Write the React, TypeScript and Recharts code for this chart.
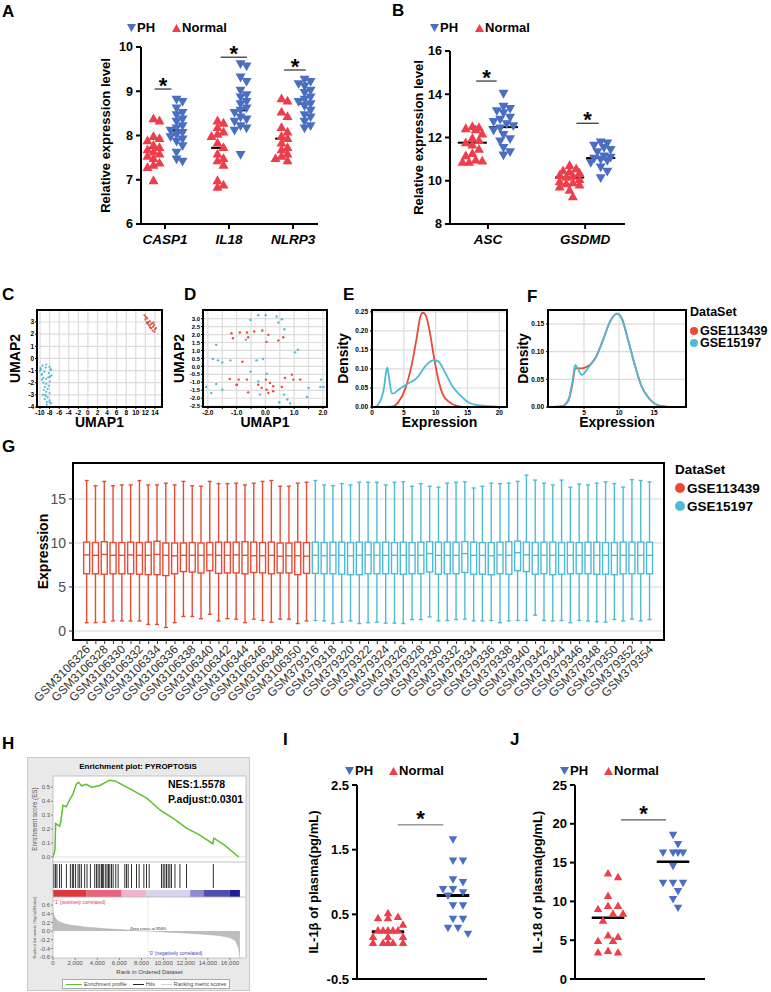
import React from 'react'
import {
  ScatterChart, Scatter, LineChart, Line, ComposedChart, Bar, Area,
  XAxis, YAxis, CartesianGrid, ReferenceLine, ReferenceArea, ReferenceDot,
  Legend, Label,
} from 'recharts'

const FONT = 'Arial, "Liberation Sans", Helvetica, sans-serif'
const BLUE = '#4a6fc2'
const RED = '#ef3e4b'
const GSE_RED = '#E64B35'
const GSE_CYAN = '#4DBBD5'
const GRID = '#dcdcdc'

// ---------- A / B / I / J dot plots ----------
const groups = ['PH', 'Normal']

const genesA = ['CASP1', 'IL18', 'NLRP3']
const normalA = [
  [8.4, 8.35, 8.0, 7.95, 7.9, 7.8, 7.75, 7.7, 7.65, 7.6, 7.55, 7.5, 7.4, 7.35, 7.3, 7.0],
  [8.35, 8.3, 8.2, 8.1, 8.05, 8.0, 7.85, 7.75, 7.6, 7.5, 7.45, 7.35, 7.0, 6.9, 6.85],
  [8.85, 8.8, 8.55, 8.45, 8.2, 8.1, 8.0, 7.95, 7.85, 7.75, 7.7, 7.6, 7.55, 7.5, 7.45],
]
const phA = [
  [8.8, 8.75, 8.6, 8.5, 8.45, 8.35, 8.3, 8.2, 8.15, 8.1, 8.05, 8.0, 7.95, 7.9, 7.85, 7.75, 7.6, 7.45, 7.4],
  [9.6, 9.55, 9.3, 9.2, 9.0, 8.9, 8.85, 8.75, 8.7, 8.6, 8.55, 8.5, 8.4, 8.35, 8.3, 8.2, 8.15, 8.1, 7.55],
  [9.25, 9.2, 9.15, 9.1, 9.0, 8.95, 8.85, 8.8, 8.75, 8.7, 8.65, 8.55, 8.45, 8.4, 8.3, 8.2, 8.15],
]
const meanNormalA = [7.72, 7.72, 7.93]
const meanPhA = [8.12, 8.57, 8.72]
const sigA = [9.05, 9.77, 9.48]

const genesB = ['ASC', 'GSDMD']
const normalB = [
  [12.55, 12.5, 12.45, 12.4, 12.2, 12.0, 11.9, 11.8, 11.7, 11.5, 11.3, 11.2, 11.0, 10.95, 10.9, 10.9],
  [10.75, 10.6, 10.5, 10.45, 10.4, 10.3, 10.25, 10.2, 10.1, 10.0, 9.95, 9.9, 9.85, 9.75, 9.6, 9.3],
]
const phB = [
  [14.0, 13.4, 13.3, 13.2, 13.1, 12.9, 12.8, 12.7, 12.6, 12.5, 12.4, 12.3, 12.1, 11.9, 11.8, 11.5, 11.3, 11.15],
  [11.75, 11.7, 11.6, 11.5, 11.4, 11.3, 11.1, 11.05, 11.0, 10.95, 10.9, 10.8, 10.6, 10.4, 10.1],
]
const meanNormalB = [11.76, 10.15]
const meanPhB = [12.48, 11.05]
const sigB = [14.61, 12.66]

const normalI = [0.53, 0.45, 0.45, 0.47, 0.35, 0.26, 0.26, 0.26, 0.26, 0.26, 0.16, 0.16, 0.16, 0.07, 0.07, 0.07, 0.07, 0.07]
const phI = [1.65, 1.32, 1.32, 1.03, 0.99, 0.88, 0.88, 0.83, 0.78, 0.63, 0.63, 0.42, 0.42, 0.28, 0.28, 0.19]
const meanI = [0.23, 0.79]
const sigI = [1.885]

const normalJ = [13.7, 13.2, 10.8, 9.5, 9.5, 9.1, 8.5, 8.5, 7.6, 5.7, 5.5, 5.0, 5.0, 3.7, 3.5, 3.5]
const phJ = [18.5, 17.3, 16.2, 16.2, 16.2, 16.2, 14.5, 12.3, 12.3, 12.3, 11.25, 10.2, 9.1]
const meanJ = [7.9, 15.1]
const sigJ = [20.5]

// ---------- C / D umap ----------
const datasets = ['GSE113439', 'GSE15197']
const dsColors = [GSE_RED, GSE_CYAN]

const umapCCyan = [[-9.8, -0.9], [-9.5, -0.6], [-8.7, -0.5], [-8.0, -0.7], [-7.7, -0.95], [-9.1, -1.1], [-9.6, -1.3], [-8.2, -1.2], [-7.9, -1.5], [-9.3, -1.6], [-8.7, -1.7], [-9.6, -1.75], [-8.0, -1.9], [-8.7, -2.1], [-9.0, -2.35], [-8.2, -2.25], [-9.2, -2.6], [-8.7, -2.75], [-8.0, -2.85], [-8.9, -3.0], [-8.4, -3.2], [-9.0, -3.35], [-8.0, -3.45], [-8.6, -3.6], [-7.7, -3.7], [-10.0, -1.0], [-9.7, -1.35], [-8.8, -0.75], [-7.8, -0.9], [-9.3, -2.0], [-8.4, -2.5], [-8.8, -3.1], [-8.0, -3.6], [-8.6, -3.8], [-9.4, -3.0], [-7.6, -1.4], [-9.9, -0.8], [-8.3, -1.55]]
const umapCRed = [[11.8, 3.55], [12.1, 3.4], [12.0, 3.2], [12.4, 3.3], [12.6, 3.0], [12.3, 2.95], [12.9, 3.05], [13.1, 2.8], [12.8, 2.7], [13.4, 2.9], [13.6, 2.6], [13.2, 2.5], [13.8, 2.75], [14.0, 2.4], [13.5, 2.3], [13.9, 2.2], [12.5, 2.85], [13.0, 2.55], [14.2, 2.5], [13.7, 2.95]]

const umapDCyan = [[-0.25, 3.21], [0.01, 3.21], [0.39, 3.13], [0.57, 2.96], [-0.52, 2.92], [0.45, 2.75], [0.66, 2.33], [-0.68, 1.67], [-1.71, 1.35], [1.03, 0.88], [1.13, 1.04], [-1.83, 0.46], [-1.65, 0.38], [-1.5, 0.25], [-1.22, 0.38], [-0.31, 0.38], [-0.08, 0.46], [-0.52, -0.33], [0.04, -0.46], [1.93, -0.83], [-1.71, -1.1], [-1.5, -1.46], [-2.06, -1.29], [-1.88, -1.67], [-1.01, -1.17], [1.91, -1.29], [1.5, -1.35], [2.02, -1.29], [-0.25, -0.94], [0.65, -1.77], [1.44, -1.92], [0.76, -2.08], [0.48, -2.25], [0.86, -2.33], [-0.19, -1.77]]
const umapDRed = [[-1.18, 2.08], [-0.89, 2.13], [-0.64, 2.13], [-0.39, 2.19], [-0.11, 2.25], [-1.13, 1.77], [-0.6, 1.83], [0.04, 1.54], [0.45, 1.63], [0.1, 1.98], [0.62, 1.83], [-0.8, 0.29], [-0.99, -1.15], [-1.24, -0.79], [-0.93, -0.83], [-0.64, -0.83], [-0.6, -1.63], [0.02, -0.83], [0.16, -1.04], [0.27, -1.25], [0.68, -0.73], [0.97, -0.83], [1.21, -0.83], [0.92, -0.52], [0.04, -1.46], [0.27, -1.56], [-0.13, -1.35], [0.1, -1.67], [0.57, -1.29], [-0.25, -1.15]]

// ---------- E / F density ----------
const densERed = [[1.5, 0], [3, 0.001], [3.6, 0.004], [4.1, 0.012], [5.2, 0.047], [6.2, 0.108], [7.0, 0.18], [7.6, 0.238], [8.0, 0.248], [8.5, 0.238], [9.1, 0.195], [9.7, 0.134], [10.4, 0.073], [11.1, 0.034], [12.2, 0.012], [13.5, 0.002], [14.5, 0]]
const densECyan = [[0.5, 0], [0.8, 0.003], [1.4, 0.02], [1.85, 0.047], [2.2, 0.09], [2.4, 0.104], [2.65, 0.08], [3.1, 0.036], [3.5, 0.036], [3.9, 0.042], [5.5, 0.06], [7.1, 0.077], [8.4, 0.108], [9.2, 0.12], [9.7, 0.123], [10.4, 0.12], [11.5, 0.09], [12.6, 0.055], [13.9, 0.03], [15.2, 0.012], [17, 0.004], [19.5, 0.001], [21, 0]]
const densFRed = [[0.6, 0], [1.8, 0.001], [2.8, 0.012], [3.4, 0.045], [3.75, 0.07], [4.1, 0.07], [4.7, 0.07], [5.6, 0.074], [6.8, 0.093], [7.8, 0.124], [8.7, 0.154], [9.7, 0.169], [10.4, 0.16], [11.3, 0.121], [12.3, 0.074], [13.2, 0.038], [14.4, 0.014], [15.9, 0.002], [17.5, 0]]
const densFCyan = [[0.6, 0], [1.8, 0.001], [2.8, 0.014], [3.4, 0.05], [3.75, 0.076], [4.1, 0.07], [4.7, 0.058], [5.6, 0.071], [6.8, 0.092], [7.8, 0.124], [8.7, 0.154], [9.7, 0.169], [10.4, 0.16], [11.3, 0.121], [12.3, 0.074], [13.2, 0.038], [14.4, 0.014], [15.9, 0.002], [17.5, 0]]

// ---------- G boxplots ----------
const samplesG = [
  'GSM3106326', 'GSM3106327', 'GSM3106328', 'GSM3106329', 'GSM3106330', 'GSM3106331', 'GSM3106332', 'GSM3106333', 'GSM3106334', 'GSM3106335',
  'GSM3106336', 'GSM3106337', 'GSM3106338', 'GSM3106339', 'GSM3106340', 'GSM3106341', 'GSM3106342', 'GSM3106343', 'GSM3106344', 'GSM3106345',
  'GSM3106346', 'GSM3106347', 'GSM3106348', 'GSM3106349', 'GSM3106350', 'GSM3106351',
  'GSM379316', 'GSM379317', 'GSM379318', 'GSM379319', 'GSM379320', 'GSM379321', 'GSM379322', 'GSM379323', 'GSM379324', 'GSM379325',
  'GSM379326', 'GSM379327', 'GSM379328', 'GSM379329', 'GSM379330', 'GSM379331', 'GSM379332', 'GSM379333', 'GSM379334', 'GSM379335',
  'GSM379336', 'GSM379337', 'GSM379338', 'GSM379339', 'GSM379340', 'GSM379341', 'GSM379342', 'GSM379343', 'GSM379344', 'GSM379345',
  'GSM379346', 'GSM379347', 'GSM379348', 'GSM379349', 'GSM379350', 'GSM379351', 'GSM379352', 'GSM379353', 'GSM379354',
]
const gMax = [
  17.1, 16.5, 17.0, 16.5, 16.6, 16.6, 17.1, 16.6, 16.6, 16.8, 16.6, 17.0, 16.5, 16.45, 17.0, 16.75, 16.75, 16.8, 16.6, 16.8, 17.0, 17.1, 16.45, 16.45, 16.8, 16.9,
  17.1, 16.6, 16.5, 16.75, 16.6, 16.9, 16.9, 16.9, 16.6, 16.9, 16.95, 16.45, 16.75, 16.45, 16.35, 16.8, 16.9, 16.95, 16.25, 16.45, 16.8, 16.75, 16.8, 17.0,
  17.7, 17.15, 16.8, 16.6, 17.15, 16.35, 16.7, 16.6, 16.8, 16.95, 16.75, 16.35, 17.2, 17.1, 16.95,
]
const gQ3 = [
  10.1, 10.05, 10.15, 10.05, 10.05, 10.1, 10.05, 10.1, 10.2, 10.0, 10.0, 10.0, 10.05, 10.0, 10.05, 10.1, 10.1, 10.1, 10.15, 10.1, 10.05, 10.1, 10.0, 10.0, 10.1, 10.05,
  10.1, 10.05, 10.1, 10.1, 10.05, 10.1, 10.1, 10.05, 10.1, 10.05, 10.1, 10.05, 10.1, 10.15, 10.1, 10.1, 10.1, 10.15, 10.1, 10.05, 10.05, 10.1, 10.15, 10.2,
  10.1, 10.05, 10.1, 10.1, 10.05, 10.1, 10.05, 10.1, 10.1, 10.05, 10.05, 10.1, 10.1, 10.1, 10.1,
]
const gMed = [
  8.65, 8.6, 8.7, 8.6, 8.6, 8.65, 8.6, 8.6, 8.7, 8.6, 8.55, 8.6, 8.6, 8.6, 8.65, 8.6, 8.6, 8.65, 8.6, 8.55, 8.55, 8.6, 8.5, 8.55, 8.55, 8.5,
  8.6, 8.55, 8.6, 8.6, 8.55, 8.6, 8.65, 8.6, 8.6, 8.6, 8.6, 8.6, 8.6, 8.8, 8.6, 8.6, 8.6, 8.8, 8.6, 8.6, 8.55, 8.65, 8.6, 8.9,
  8.65, 8.6, 8.6, 8.6, 8.6, 8.6, 8.6, 8.6, 8.6, 8.6, 8.6, 8.6, 8.6, 8.6, 8.6,
]
const gQ1 = [
  6.5, 6.5, 6.45, 6.5, 6.5, 6.5, 6.45, 6.4, 6.4, 6.3, 6.5, 6.75, 6.7, 6.6, 6.85, 6.55, 6.6, 6.6, 6.5, 6.65, 6.6, 6.5, 6.6, 6.6, 6.4, 6.55,
  6.55, 6.5, 6.5, 6.45, 6.4, 6.4, 6.5, 6.5, 6.5, 6.5, 6.45, 6.5, 6.5, 6.7, 6.45, 6.5, 6.5, 6.65, 6.45, 6.45, 6.4, 6.5, 6.45, 6.85,
  6.75, 6.45, 6.5, 6.4, 6.45, 6.5, 6.5, 6.5, 6.45, 6.45, 6.4, 6.5, 6.5, 6.5, 6.5,
]
const gMin = [
  0.95, 0.95, 1.0, 1.15, 1.15, 1.15, 1.15, 0.75, 0.75, 0.4, 0.95, 1.65, 1.65, 1.4, 1.9, 1.15, 1.4, 1.35, 0.95, 1.35, 1.2, 1.0, 1.35, 1.35, 0.85, 1.15,
  1.2, 1.15, 0.85, 1.0, 1.15, 0.85, 0.95, 1.0, 0.9, 0.9, 0.85, 1.3, 1.3, 1.6, 1.15, 1.2, 1.3, 1.35, 1.15, 1.15, 1.2, 0.95, 1.15, 1.2,
  1.2, 1.8, 1.2, 1.15, 1.2, 0.95, 1.2, 1.15, 1.05, 1.0, 1.3, 1.15, 1.35, 1.15, 1.3,
]
const gGroupSize = [26, 39]

// ---------- H GSEA ----------
const esRank = [0, 120, 180, 240, 600, 700, 900, 1200, 1500, 1800, 2100, 2300, 2600, 3000, 3500, 4200, 5100, 5600, 6200, 7250, 8500, 9700, 10900, 12100, 13200, 14450, 14550, 15500, 16800]
const esScore = [0, 0.03, 0.06, 0.24, 0.22, 0.25, 0.37, 0.36, 0.41, 0.45, 0.52, 0.535, 0.51, 0.52, 0.5, 0.51, 0.55, 0.545, 0.52, 0.475, 0.42, 0.335, 0.275, 0.205, 0.16, 0.095, 0.135, 0.085, 0]
const hitRanks = [90, 240, 360, 600, 760, 1210, 1570, 1750, 1870, 2050, 2270, 2420, 2570, 2870, 3080, 3380, 3780, 3930, 4080, 4230, 4380, 4470, 4590, 4770, 4890, 5020, 5140, 5290, 5440, 5680, 5890, 6500, 6650, 6800, 7100, 7550, 7790, 8220, 8460, 8700, 9820, 9970, 10120, 10270, 10420, 10570, 10720, 11030, 11480, 12080, 14500]
const metricRank = [0, 200, 500, 1000, 1500, 2000, 3000, 4000, 5000, 6000, 7000, 8000, 8580, 9000, 10000, 11000, 12000, 13000, 14000, 15000, 16000, 16500, 16800, 16900]
const metricValue = [0.42, 0.3, 0.22, 0.17, 0.14, 0.12, 0.09, 0.07, 0.05, 0.035, 0.02, 0.008, 0, -0.005, -0.02, -0.03, -0.045, -0.06, -0.08, -0.1, -0.15, -0.22, -0.4, -0.62]
const barEdges = [0, 3000, 6200, 8460, 12400, 13600, 16000, 16900]
const barColors = ['#e2363d', '#e8637a', '#f2b3cf', '#d6d4ee', '#8c8cd2', '#4f4fb3', '#1f1f9e']
const gseaKeys = ['Enrichment profile', 'Hits', 'Ranking metric scores']
const gseaKeyColors = ['#5cc12a', '#222', '#cfcfcf']
const nes = 'NES:1.5578'
const padj = 'P.adjust:0.0301'
const zeroCross = 8580

// ---------- helpers ----------
const axisStroke = { stroke: '#000', strokeWidth: 2 }
const thin = { stroke: '#000', strokeWidth: 1 }
const smallTick = { fontSize: 6.5, fontWeight: 700, fill: '#000', fontFamily: FONT }
const toRows = (pairs: number[][]) => pairs.map(([x, y]) => ({ x, y }))

function swarm(values: number[], center: number, yPx: number, xPx: number, d: number, step: number, maxK: number) {
  const placed: number[][] = []
  return [...values].sort((a, b) => b - a).map((v) => {
    const py = v * yPx
    let best = 0
    let bestGap = -1
    for (let k = 0; k <= 2 * maxK; k += 1) {
      const cand = (k % 2 === 1 ? 1 : -1) * Math.ceil(k / 2) * step
      const gap = placed.reduce((m, [px, qy]) => Math.min(m, Math.hypot(px - cand, qy - py)), Infinity)
      if (gap >= d) { best = cand; break }
      if (gap > bestGap) { best = cand; bestGap = gap }
    }
    placed.push([best, py])
    return { x: center + best / xPx, y: v }
  })
}

const tri = (color: string, size: number, down: boolean) => (props: any) => {
  const { cx, cy } = props
  if (cx == null || cy == null) return <g />
  const h = size * 0.88
  const w = size / 2
  const d = down
    ? `M${cx - w},${cy - h / 2}L${cx + w},${cy - h / 2}L${cx},${cy + h / 2}Z`
    : `M${cx},${cy - h / 2}L${cx + w},${cy + h / 2}L${cx - w},${cy + h / 2}Z`
  return <path d={d} fill={color} />
}

const dot = (color: string, r: number) => (props: any) => {
  const { cx, cy } = props
  if (cx == null || cy == null) return <g />
  return <circle cx={cx} cy={cy} r={r} fill={color} />
}

const GroupLegend = ({ gap }: { gap: number }) => (
  <div style={{ display: 'flex', alignItems: 'center', fontFamily: FONT, fontWeight: 700, fontSize: 13, color: '#000', whiteSpace: 'nowrap', lineHeight: '14px' }}>
    {groups.map((g, i) => (
      <span key={g} style={{ display: 'inline-flex', alignItems: 'center', marginRight: i === 0 ? gap : 0 }}>
        <svg width={9} height={8} style={{ marginRight: 1 }}>
          <path d={i === 0 ? 'M0,0L9,0L4.5,8Z' : 'M4.5,0L9,8L0,8Z'} fill={i === 0 ? BLUE : RED} />
        </svg>
        {g}
      </span>
    ))}
  </div>
)

const DataSetLegend = ({ size, r, titleGap, rowGap }: { size: number; r: number; titleGap: number; rowGap: number }) => (
  <div style={{ fontFamily: FONT, fontWeight: 700, fontSize: size, color: '#000', lineHeight: `${size}px`, whiteSpace: 'nowrap' }}>
    <div style={{ marginBottom: titleGap }}>DataSet</div>
    {datasets.map((d, i) => (
      <div key={d} style={{ display: 'flex', alignItems: 'center', marginTop: i ? rowGap : 0 }}>
        <span style={{ width: r * 2, height: r * 2, borderRadius: '50%', background: dsColors[i], marginRight: 2, flex: 'none' }} />
        {d}
      </div>
    ))}
  </div>
)

type DotCfg = {
  width: number; height: number
  margin: { top: number; right: number; bottom: number; left: number }
  yWidth: number; xHeight: number
  xDomain: number[]; yDomain: number[]; yTicks: number[]
  cats: string[] | null; centers: number[]
  normal: number[][]; ph: number[][]
  meanN: number[]; meanP: number[]; sigY: number[]; sigSpan: number[][]
  sep: number; meanHalf: number; meanWidth: number; marker: number
  swarmD: number; swarmStep: number; swarmK: number
  yLabel: string; yLabelOffset: number; yLabelSize: number
  legendLeft: number; legendTop: number; legendGap: number
  sigColor: string; sigWidth: number; starSize: number; starOffset: number
  tickFont: number
}

function DotPlot({ c }: { c: DotCfg }) {
  const plotW = c.width - c.margin.left - c.margin.right - c.yWidth
  const plotH = c.height - c.margin.top - c.margin.bottom - c.xHeight
  const xPx = plotW / (c.xDomain[1] - c.xDomain[0])
  const yPx = plotH / (c.yDomain[1] - c.yDomain[0])
  const spread = (vals: number[], at: number) => swarm(vals, at, yPx, xPx, c.swarmD, c.swarmStep, c.swarmK)
  return (
    <ScatterChart width={c.width} height={c.height} margin={c.margin}>
      <XAxis
        type="number" dataKey="x" domain={c.xDomain} allowDataOverflow height={c.xHeight}
        ticks={c.cats ? c.centers : undefined} interval={0}
        tickFormatter={(v: number) => (c.cats ? c.cats[c.centers.indexOf(v)] : '')}
        tick={c.cats ? { fontSize: 13.5, fontWeight: 700, fontStyle: 'italic', fill: '#000', fontFamily: FONT } : false}
        tickLine={c.cats ? axisStroke : false} tickSize={5} tickMargin={5} axisLine={axisStroke}
      />
      <YAxis
        type="number" dataKey="y" domain={c.yDomain} allowDataOverflow ticks={c.yTicks} interval={0} width={c.yWidth}
        tick={{ fontSize: c.tickFont, fontWeight: 700, fill: '#000', fontFamily: FONT }}
        tickLine={axisStroke} tickSize={5} tickMargin={3} axisLine={axisStroke}
      >
        <Label value={c.yLabel} angle={-90} position="insideLeft" offset={c.yLabelOffset} fontSize={c.yLabelSize} fontWeight={700} fill="#000" style={{ textAnchor: 'middle', fontFamily: FONT }} />
      </YAxis>
      <Legend
        layout="vertical" align="center" verticalAlign="middle"
        wrapperStyle={{ left: c.legendLeft, top: c.legendTop, width: 'auto', height: 'auto' }}
        content={() => <GroupLegend gap={c.legendGap} />}
      />
      {c.normal.map((vals, i) => (
        <Scatter key={`n${i}`} data={spread(vals, c.centers[i] - c.sep)} shape={tri(RED, c.marker, false)} isAnimationActive={false} />
      ))}
      {c.ph.map((vals, i) => (
        <Scatter key={`p${i}`} data={spread(vals, c.centers[i] + c.sep)} shape={tri(BLUE, c.marker, true)} isAnimationActive={false} />
      ))}
      {c.centers.map((m, i) => (
        <ReferenceLine key={`mn${i}`} segment={[{ x: m - c.sep - c.meanHalf, y: c.meanN[i] }, { x: m - c.sep + c.meanHalf, y: c.meanN[i] }]} stroke="#000" strokeWidth={c.meanWidth} />
      ))}
      {c.centers.map((m, i) => (
        <ReferenceLine key={`mp${i}`} segment={[{ x: m + c.sep - c.meanHalf, y: c.meanP[i] }, { x: m + c.sep + c.meanHalf, y: c.meanP[i] }]} stroke="#000" strokeWidth={c.meanWidth} />
      ))}
      {c.centers.map((m, i) => (
        <ReferenceLine key={`s${i}`} segment={[{ x: m + c.sigSpan[i][0], y: c.sigY[i] }, { x: m + c.sigSpan[i][1], y: c.sigY[i] }]} stroke={c.sigColor} strokeWidth={c.sigWidth} />
      ))}
      {c.centers.map((m, i) => (
        <ReferenceDot
          key={`st${i}`} x={m + (c.sigSpan[i][0] + c.sigSpan[i][1]) / 2} y={c.sigY[i]} r={0} fill="none" stroke="none" ifOverflow="visible"
          label={{ value: '*', position: 'top', offset: c.starOffset, fontSize: c.starSize, fontWeight: 700, fill: '#000', fontFamily: FONT }}
        />
      ))}
    </ScatterChart>
  )
}

const cfgA: DotCfg = {
  width: 280, height: 240, margin: { top: 32, right: 22, bottom: 6, left: 41 }, yWidth: 40, xHeight: 25,
  xDomain: [-0.375, 2.39], yDomain: [6, 10], yTicks: [6, 7, 8, 9, 10], cats: genesA, centers: [0, 1, 2],
  normal: normalA, ph: phA, meanN: meanNormalA, meanP: meanPhA, sigY: sigA,
  sigSpan: [[-0.16, 0.1], [-0.13, 0.28], [-0.14, 0.2]],
  sep: 0.18, meanHalf: 0.1, meanWidth: 2, marker: 10, swarmD: 6, swarmStep: 3, swarmK: 3,
  yLabel: 'Relative expression level', yLabelOffset: 4, yLabelSize: 13,
  legendLeft: 67, legendTop: 6, legendGap: 17,
  sigColor: '#000', sigWidth: 1, starSize: 22, starOffset: -4, tickFont: 12.5,
}
const cfgB: DotCfg = {
  width: 260, height: 240, margin: { top: 36, right: 15, bottom: 6, left: 30 }, yWidth: 40, xHeight: 25,
  xDomain: [-0.39, 1.41], yDomain: [8, 16], yTicks: [8, 10, 12, 14, 16], cats: genesB, centers: [0, 1],
  normal: normalB, ph: phB, meanN: meanNormalB, meanP: meanPhB, sigY: sigB,
  sigSpan: [[-0.12, 0.09], [-0.09, 0.14]],
  sep: 0.16, meanHalf: 0.15, meanWidth: 2, marker: 10, swarmD: 6.5, swarmStep: 3.3, swarmK: 3,
  yLabel: 'Relative expression level', yLabelOffset: 8, yLabelSize: 13,
  legendLeft: 50, legendTop: 6, legendGap: 17,
  sigColor: '#000', sigWidth: 1, starSize: 22, starOffset: -4, tickFont: 12.5,
}
const cfgI: DotCfg = {
  width: 210, height: 230, margin: { top: 25, right: 13, bottom: 6, left: 17 }, yWidth: 50, xHeight: 5,
  xDomain: [-0.477, 1.523], yDomain: [-0.5, 2.5], yTicks: [-0.5, 0.5, 1.5, 2.5], cats: null, centers: [0.5],
  normal: [normalI], ph: [phI], meanN: [meanI[0]], meanP: [meanI[1]], sigY: sigI,
  sigSpan: [[-0.35, 0.35]],
  sep: 0.5, meanHalf: 0.25, meanWidth: 3, marker: 8.5, swarmD: 9.5, swarmStep: 5, swarmK: 3,
  yLabel: 'IL-1β of plasma(pg/mL)', yLabelOffset: 6, yLabelSize: 13,
  legendLeft: 55, legendTop: 4, legendGap: 16,
  sigColor: '#9a9a9a', sigWidth: 1.5, starSize: 22, starOffset: -1, tickFont: 13,
}
const cfgJ: DotCfg = {
  width: 210, height: 230, margin: { top: 25, right: 15, bottom: 6, left: 17 }, yWidth: 48, xHeight: 5,
  xDomain: [-0.508, 1.492], yDomain: [0, 25], yTicks: [0, 5, 10, 15, 20, 25], cats: null, centers: [0.5],
  normal: [normalJ], ph: [phJ], meanN: [meanJ[0]], meanP: [meanJ[1]], sigY: sigJ,
  sigSpan: [[-0.3, 0.39]],
  sep: 0.5, meanHalf: 0.25, meanWidth: 2.5, marker: 8.5, swarmD: 9.5, swarmStep: 5, swarmK: 3,
  yLabel: 'IL-18 of plasma(pg/mL)', yLabelOffset: 10, yLabelSize: 13,
  legendLeft: 50, legendTop: 4, legendGap: 16,
  sigColor: '#555', sigWidth: 1.2, starSize: 22, starOffset: -1, tickFont: 13,
}

const bigLabel = { fontSize: 14, fontWeight: 700, fill: '#000', fontFamily: FONT }

function PanelC() {
  const xd = [-10.63, 15.47]
  const yd = [-4, 3.99]
  return (
    <ScatterChart width={170} height={130} margin={{ top: 10, right: 8, bottom: 0, left: 3 }}>
      <CartesianGrid stroke={GRID} strokeWidth={1.2} />
      <XAxis type="number" dataKey="x" domain={xd} allowDataOverflow ticks={[-10, -8, -6, -4, -2, 0, 2, 4, 6, 8, 10, 12, 14]} interval={0} height={23} tick={smallTick} tickSize={2} tickMargin={1} tickLine={thin} axisLine={axisStroke}>
        <Label value="UMAP1" position="insideBottom" offset={3} {...bigLabel} />
      </XAxis>
      <YAxis type="number" dataKey="y" domain={yd} allowDataOverflow ticks={[-4, -3, -2, -1, 0, 1, 2, 3]} interval={0} width={34} tick={smallTick} tickSize={2} tickMargin={1} tickLine={thin} axisLine={axisStroke}>
        <Label value="UMAP2" angle={-90} position="insideLeft" offset={12} {...bigLabel} style={{ textAnchor: 'middle' }} />
      </YAxis>
      <Scatter data={toRows(umapCCyan)} shape={dot(GSE_CYAN, 1.1)} isAnimationActive={false} />
      <Scatter data={toRows(umapCRed)} shape={dot(GSE_RED, 1.1)} isAnimationActive={false} />
      <ReferenceArea x1={xd[0]} x2={xd[1]} y1={yd[0]} y2={yd[1]} fill="none" stroke="#000" strokeWidth={2} ifOverflow="visible" />
    </ScatterChart>
  )
}

function PanelD() {
  const xd = [-2.17, 2.14]
  const yd = [-2.55, 3.54]
  return (
    <ScatterChart width={165} height={130} margin={{ top: 10, right: 8, bottom: 0, left: 6 }}>
      <CartesianGrid stroke={GRID} strokeWidth={1.2} />
      <XAxis type="number" dataKey="x" domain={xd} allowDataOverflow ticks={[-2, -1.5, -1, -0.5, 0, 0.5, 1, 1.5, 2]} interval={0} tickFormatter={(v: number) => (Number.isInteger(v) ? v.toFixed(1) : '')} height={23} tick={smallTick} tickSize={2} tickMargin={1} tickLine={thin} axisLine={axisStroke}>
        <Label value="UMAP1" position="insideBottom" offset={3} {...bigLabel} />
      </XAxis>
      <YAxis type="number" dataKey="y" domain={yd} allowDataOverflow ticks={[-2.5, -2, -1.5, -1, -0.5, 0, 0.5, 1, 1.5, 2, 2.5, 3]} interval={0} tickFormatter={(v: number) => v.toFixed(1)} width={27} tick={{ ...smallTick, fontSize: 6 }} tickSize={2} tickMargin={1} tickLine={thin} axisLine={axisStroke}>
        <Label value="UMAP2" angle={-90} position="insideLeft" offset={3} {...bigLabel} style={{ textAnchor: 'middle' }} />
      </YAxis>
      <Scatter data={toRows(umapDCyan)} shape={dot(GSE_CYAN, 1.2)} isAnimationActive={false} />
      <Scatter data={toRows(umapDRed)} shape={dot(GSE_RED, 1.2)} isAnimationActive={false} />
      <ReferenceArea x1={xd[0]} x2={xd[1]} y1={yd[0]} y2={yd[1]} fill="none" stroke="#000" strokeWidth={2} ifOverflow="visible" />
    </ScatterChart>
  )
}

function PanelE() {
  const xd = [0, 21.2]
  const yd = [0, 0.255]
  return (
    <LineChart width={178} height={130} margin={{ top: 10, right: 6, bottom: 0, left: 0 }}>
      <CartesianGrid stroke={GRID} strokeWidth={1.2} />
      <XAxis type="number" dataKey="x" domain={xd} allowDataOverflow ticks={[0, 5, 10, 15, 20]} interval={0} height={23} tick={smallTick} tickSize={2} tickMargin={1} tickLine={thin} axisLine={axisStroke}>
        <Label value="Expression" position="insideBottom" offset={3} {...bigLabel} />
      </XAxis>
      <YAxis type="number" domain={yd} allowDataOverflow ticks={[0, 0.05, 0.1, 0.15, 0.2, 0.25]} interval={0} tickFormatter={(v: number) => v.toFixed(2)} width={37} tick={smallTick} tickSize={2} tickMargin={2} tickLine={thin} axisLine={axisStroke}>
        <Label value="Density" angle={-90} position="insideLeft" offset={8} {...bigLabel} style={{ textAnchor: 'middle' }} />
      </YAxis>
      <Line data={toRows(densERed)} dataKey="y" type="monotone" stroke={GSE_RED} strokeWidth={1.8} dot={false} isAnimationActive={false} />
      <Line data={toRows(densECyan)} dataKey="y" type="monotone" stroke={GSE_CYAN} strokeWidth={1.8} dot={false} isAnimationActive={false} />
      <ReferenceArea x1={xd[0]} x2={xd[1]} y1={yd[0]} y2={yd[1]} fill="none" stroke="#000" strokeWidth={2} ifOverflow="visible" />
    </LineChart>
  )
}

function PanelF() {
  const xd = [-0.14, 19.57]
  const yd = [0, 0.1754]
  return (
    <LineChart width={258} height={130} margin={{ top: 10, right: 85, bottom: 0, left: 0 }}>
      <CartesianGrid stroke={GRID} strokeWidth={1.2} />
      <XAxis type="number" dataKey="x" domain={xd} allowDataOverflow ticks={[5, 10, 15]} interval={0} height={23} tick={smallTick} tickSize={2} tickMargin={1} tickLine={thin} axisLine={axisStroke}>
        <Label value="Expression" position="insideBottom" offset={3} {...bigLabel} />
      </XAxis>
      <YAxis type="number" domain={yd} allowDataOverflow ticks={[0, 0.05, 0.1, 0.15]} interval={0} tickFormatter={(v: number) => v.toFixed(2)} width={35} tick={smallTick} tickSize={2} tickMargin={2} tickLine={thin} axisLine={axisStroke}>
        <Label value="Density" angle={-90} position="insideLeft" offset={10} {...bigLabel} style={{ textAnchor: 'middle' }} />
      </YAxis>
      <Legend
        layout="vertical" align="center" verticalAlign="middle"
        wrapperStyle={{ left: 177, top: 6, width: 'auto', height: 'auto' }}
        content={() => <DataSetLegend size={12.5} r={4} titleGap={6} rowGap={0} />}
      />
      <Line data={toRows(densFRed)} dataKey="y" type="monotone" stroke={GSE_RED} strokeWidth={1.8} dot={false} isAnimationActive={false} />
      <Line data={toRows(densFCyan)} dataKey="y" type="monotone" stroke={GSE_CYAN} strokeWidth={1.8} dot={false} isAnimationActive={false} />
      <ReferenceArea x1={xd[0]} x2={xd[1]} y1={yd[0]} y2={yd[1]} fill="none" stroke="#000" strokeWidth={2} ifOverflow="visible" />
    </LineChart>
  )
}

const gRows = samplesG.map((name, idx) => ({
  idx, name, range: [gMin[idx], gMax[idx]], q1: gQ1[idx], med: gMed[idx], q3: gQ3[idx],
  group: idx < gGroupSize[0] ? 0 : 1,
}))

const BoxShape = (props: any) => {
  const { x, y, width, height, payload } = props
  if (x == null || !payload) return <g />
  const color = dsColors[payload.group]
  const top = Math.min(y, y + height)
  const h = Math.abs(height)
  const [lo, hi] = payload.range
  const k = h / (hi - lo)
  const py = (v: number) => top + (hi - v) * k
  const cx = x + width / 2
  const cap = 2
  return (
    <g stroke={color} strokeWidth={1.4} fill="none">
      <line x1={cx} x2={cx} y1={top} y2={py(payload.q3)} />
      <line x1={cx} x2={cx} y1={py(payload.q1)} y2={top + h} />
      <line x1={cx - cap} x2={cx + cap} y1={top} y2={top} />
      <line x1={cx - cap} x2={cx + cap} y1={top + h} y2={top + h} />
      <rect x={x} y={py(payload.q3)} width={width} height={py(payload.q1) - py(payload.q3)} fill="#fff" />
      <line x1={x} x2={x + width} y1={py(payload.med)} y2={py(payload.med)} />
    </g>
  )
}

const GTick = (props: any) => {
  const { x, y, payload } = props
  const i = payload.value
  if (i % 2 !== 0) return <g />
  const tx = x + 4
  const ty = y + 4
  return (
    <text x={tx} y={ty} transform={`rotate(-45 ${tx} ${ty})`} textAnchor="end" fontSize={12} fill="#333" fontFamily={FONT}>
      {samplesG[i]}
    </text>
  )
}

function PanelG() {
  const xd = [-1.6, 65.6]
  const yd = [-1.02, 19.09]
  return (
    <ComposedChart width={771} height={260} data={gRows} margin={{ top: 8, right: 107, bottom: 5, left: 28 }}>
      <CartesianGrid vertical={false} stroke="#e3e3e3" strokeWidth={1.3} />
      <XAxis type="number" dataKey="idx" domain={xd} allowDataOverflow ticks={gRows.map((r) => r.idx)} interval={0} height={70} tick={(p: any) => <GTick {...p} />} tickSize={4} tickLine={{ stroke: '#333', strokeWidth: 1 }} axisLine={axisStroke} />
      <YAxis type="number" domain={yd} allowDataOverflow ticks={[0, 5, 10, 15]} interval={0} width={45} tick={{ fontSize: 14, fill: '#4d4d4d', fontFamily: FONT }} tickSize={4} tickMargin={3} tickLine={{ stroke: '#333', strokeWidth: 1 }} axisLine={axisStroke}>
        <Label value="Expression" angle={-90} position="insideLeft" offset={15} {...bigLabel} style={{ textAnchor: 'middle' }} />
      </YAxis>
      <Legend
        layout="vertical" align="center" verticalAlign="middle"
        wrapperStyle={{ left: 675, top: 8, width: 'auto', height: 'auto' }}
        content={() => <DataSetLegend size={13.5} r={5} titleGap={5} rowGap={4.5} />}
      />
      <Bar dataKey="range" barSize={6} shape={BoxShape} isAnimationActive={false} />
      <ReferenceArea x1={xd[0]} x2={xd[1]} y1={yd[0]} y2={yd[1]} fill="none" stroke="#000" strokeWidth={2} ifOverflow="visible" />
    </ComposedChart>
  )
}

const esRows = esRank.map((rank, i) => ({ rank, es: esScore[i] }))
const hitRows = hitRanks.map((rank) => ({ rank, h: [0.26, 0.94] }))
const metricRows = metricRank.map((rank, i) => ({ rank, m: metricValue[i] }))
const RANK_MAX = 17450
const hTick = { fontSize: 6, fill: '#555', fontFamily: FONT }

const GseaLegend = () => (
  <div style={{ display: 'flex', alignItems: 'center', background: '#fff', border: '1px solid #aaa', padding: '1px 3px', fontFamily: FONT, fontSize: 5.3, color: '#444', whiteSpace: 'nowrap', lineHeight: '6px' }}>
    {gseaKeys.map((k, i) => (
      <span key={k} style={{ display: 'inline-flex', alignItems: 'center', marginRight: i < 2 ? 6 : 0 }}>
        <span style={{ display: 'inline-block', width: i === 0 ? 16 : 11, height: 0, borderTop: `1.2px solid ${gseaKeyColors[i]}`, marginRight: 2 }} />
        {k}
      </span>
    ))}
  </div>
)

function PanelH() {
  return (
    <>
      <div style={{ position: 'absolute', left: 27, top: 757, width: 221, height: 232, background: '#e9e9e9', border: '1px solid #c9c9c9' }} />
      <div style={{ position: 'absolute', left: 27, top: 763, width: 222, textAlign: 'center', fontSize: 8, fontWeight: 700, lineHeight: '8px' }}>Enrichment plot: PYROPTOSIS</div>
      <div style={{ position: 'absolute', left: 27, top: 770 }}>
        <LineChart width={222} height={95} margin={{ top: 6, right: 3, bottom: 3, left: 4 }}>
          <CartesianGrid horizontal={false} vertical={false} fill="#fff" />
          <XAxis type="number" dataKey="rank" domain={[0, RANK_MAX]} allowDataOverflow hide />
          <YAxis type="number" domain={[-0.036, 0.58]} allowDataOverflow ticks={[0, 0.1, 0.2, 0.3, 0.4, 0.5]} interval={0} tickFormatter={(v: number) => v.toFixed(1)} width={22} tick={hTick} tickSize={2} tickMargin={1} tickLine={{ stroke: '#888' }} axisLine={false}>
            <Label value="Enrichment score (ES)" angle={-90} position="insideLeft" offset={4} fontSize={6.3} fill="#555" style={{ textAnchor: 'middle', fontFamily: FONT }} />
          </YAxis>
          <ReferenceLine y={0} stroke="#d0d0d0" strokeWidth={0.6} />
          <Line data={esRows} dataKey="es" type="linear" stroke="#5cc12a" strokeWidth={1.5} dot={false} isAnimationActive={false} />
          <ReferenceArea x1={0} x2={RANK_MAX} y1={-0.036} y2={0.58} fill="none" stroke="#b5b5b5" strokeWidth={0.8} ifOverflow="visible" />
        </LineChart>
      </div>
      <div style={{ position: 'absolute', left: 168, top: 779, fontSize: 10.5, fontWeight: 700, lineHeight: '10.5px' }}>{nes}</div>
      <div style={{ position: 'absolute', left: 168, top: 794, fontSize: 10.5, fontWeight: 700, lineHeight: '10.5px' }}>{padj}</div>
      <div style={{ position: 'absolute', left: 27, top: 862 }}>
        <ComposedChart width={222} height={35} data={hitRows} margin={{ top: 0, right: 3, bottom: 0, left: 26 }}>
          <CartesianGrid horizontal={false} vertical={false} fill="#fff" />
          <XAxis type="number" dataKey="rank" domain={[0, RANK_MAX]} allowDataOverflow hide />
          <YAxis type="number" domain={[0, 1]} allowDataOverflow hide />
          {barColors.map((col, i) => (
            <ReferenceArea key={col} x1={barEdges[i]} x2={barEdges[i + 1]} y1={0} y2={0.2} fill={col} fillOpacity={1} stroke="none" />
          ))}
          <Bar dataKey="h" barSize={0.9} fill="#1a1a1a" isAnimationActive={false} />
          <ReferenceArea x1={0} x2={RANK_MAX} y1={0} y2={1} fill="none" stroke="#b5b5b5" strokeWidth={0.8} ifOverflow="visible" />
        </ComposedChart>
      </div>
      <div style={{ position: 'absolute', left: 27, top: 897 }}>
        <ComposedChart width={222} height={95} data={metricRows} margin={{ top: 0, right: 3, bottom: 10, left: 4 }}>
          <CartesianGrid horizontal={false} vertical={false} fill="#fff" />
          <XAxis type="number" dataKey="rank" domain={[0, RANK_MAX]} allowDataOverflow ticks={[0, 2000, 4000, 6000, 8000, 10000, 12000, 14000, 16000]} interval={0} tickFormatter={(v: number) => v.toLocaleString('en-US')} height={24} tick={hTick} tickSize={2} tickMargin={1} tickLine={{ stroke: '#888' }} axisLine={false}>
            <Label value="Rank in Ordered Dataset" position="insideBottom" offset={8} fontSize={6} fill="#444" style={{ fontFamily: FONT }} />
          </XAxis>
          <YAxis type="number" domain={[-0.62, 0.785]} allowDataOverflow ticks={[-0.6, -0.4, -0.2, 0, 0.2, 0.4, 0.6]} interval={0} tickFormatter={(v: number) => v.toFixed(1)} width={22} tick={hTick} tickSize={2} tickMargin={1} tickLine={{ stroke: '#888' }} axisLine={false}>
            <Label value="Ranked list metric (Signal2Noise)" angle={-90} position="insideLeft" offset={4} fontSize={4.2} fill="#555" style={{ textAnchor: 'middle', fontFamily: FONT }} />
          </YAxis>
          <Area dataKey="m" type="linear" fill="#bdbdbd" fillOpacity={1} stroke="#a8a8a8" strokeWidth={0.5} isAnimationActive={false} />
          <ReferenceLine x={zeroCross} stroke="#bdbdbd" strokeDasharray="1 1" strokeWidth={0.6} />
          <ReferenceDot x={0} y={0.67} r={0} fill="none" stroke="none" label={{ value: "'1' (positively correlated)", position: 'right', offset: 1, fontSize: 4.8, fill: '#e03c3c', fontFamily: FONT }} />
          <ReferenceDot x={zeroCross} y={0} r={0} fill="none" stroke="none" label={{ value: `Zero cross at ${zeroCross}`, position: 'top', offset: 1, fontSize: 4.3, fill: '#333', fontFamily: FONT }} />
          <ReferenceDot x={11100} y={-0.51} r={0} fill="none" stroke="none" label={{ value: "'0' (negatively correlated)", position: 'center', fontSize: 4.8, fill: '#3c3cc8', fontFamily: FONT }} />
          <ReferenceArea x1={0} x2={RANK_MAX} y1={-0.62} y2={0.785} fill="none" stroke="#b5b5b5" strokeWidth={0.8} ifOverflow="visible" />
          <Legend
            layout="vertical" align="center" verticalAlign="middle"
            wrapperStyle={{ left: 35, top: 82, width: 'auto', height: 'auto' }}
            content={() => <GseaLegend />}
          />
        </ComposedChart>
      </div>
    </>
  )
}

const letters: [string, number, number][] = [
  ['A', 2, 3], ['B', 392, 2], ['C', 2, 286], ['D', 184, 286], ['E', 343, 286], ['F', 527, 288],
  ['G', 2, 438], ['H', 2, 735], ['I', 283, 731], ['J', 510, 731],
]

function Pos({ left, top, children }: { left: number; top: number; children: React.ReactNode }) {
  return <div style={{ position: 'absolute', left, top }}>{children}</div>
}

export default function App() {
  return (
    <div style={{ position: 'absolute', left: 0, top: 0, width: 771, height: 992, background: '#fff', fontFamily: FONT, color: '#000', overflow: 'hidden' }}>
      {letters.map(([t, l, tp]) => (
        <div key={t} style={{ position: 'absolute', left: l, top: tp, fontSize: 17, fontWeight: 700, lineHeight: '17px' }}>{t}</div>
      ))}
      <Pos left={60} top={15}><DotPlot c={cfgA} /></Pos>
      <Pos left={380} top={15}><DotPlot c={cfgB} /></Pos>
      <Pos left={0} top={300}><PanelC /></Pos>
      <Pos left={170} top={300}><PanelD /></Pos>
      <Pos left={335} top={300}><PanelE /></Pos>
      <Pos left={513} top={300}><PanelF /></Pos>
      <Pos left={0} top={455}><PanelG /></Pos>
      <PanelH />
      <Pos left={290} top={760}><DotPlot c={cfgI} /></Pos>
      <Pos left={510} top={760}><DotPlot c={cfgJ} /></Pos>
    </div>
  )
}
